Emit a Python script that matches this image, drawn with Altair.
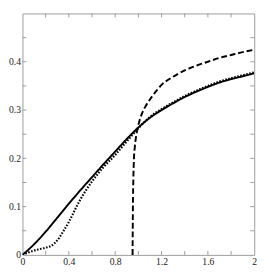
import altair as alt
import pandas as pd

# solid curve
solid_x = [0, 0.1, 0.2, 0.3, 0.4, 0.5, 0.6, 0.7, 0.8, 0.9, 1.0, 1.1, 1.2, 1.3, 1.4, 1.5, 1.6, 1.7, 1.8, 1.9, 2.0]
solid_y = [0, 0.022, 0.048, 0.077, 0.106, 0.134, 0.161, 0.188, 0.214, 0.240, 0.264, 0.284, 0.300, 0.314, 0.327, 0.338, 0.348, 0.357, 0.364, 0.370, 0.376]

# dotted curve
dot_x = [0, 0.05, 0.1, 0.15, 0.2, 0.25, 0.3, 0.35, 0.4, 0.45, 0.5, 0.6, 0.7, 0.8, 0.9, 1.0, 1.1, 1.2, 1.3, 1.4, 1.5, 1.6, 1.7, 1.8, 1.9, 2.0]
dot_y = [0, 0.005, 0.009, 0.012, 0.015, 0.019, 0.030, 0.048, 0.068, 0.092, 0.115, 0.152, 0.182, 0.207, 0.235, 0.262, 0.286, 0.302, 0.316, 0.329, 0.340, 0.350, 0.359, 0.366, 0.372, 0.378]

# dashed curve
dash_x = [0.95, 0.953, 0.957, 0.962, 0.97, 0.98, 0.993, 1.01, 1.03, 1.06, 1.1, 1.15, 1.2, 1.3, 1.4, 1.5, 1.6, 1.7, 1.8, 1.9, 2.0]
dash_y = [0, 0.10, 0.16, 0.20, 0.225, 0.245, 0.262, 0.278, 0.292, 0.307, 0.322, 0.338, 0.352, 0.369, 0.382, 0.392, 0.400, 0.408, 0.414, 0.420, 0.425]

x_labels = [0, 0.4, 0.8, 1.2, 1.6, 2]
y_labels = [0, 0.1, 0.2, 0.3, 0.4]
x_minor = [0.2, 0.4, 0.6, 0.8, 1.0, 1.2, 1.4, 1.6, 1.8]
y_minor = [0.05, 0.1, 0.15, 0.2, 0.25, 0.3, 0.35, 0.4, 0.45]

W, H = 240, 250
GRAY = "#9a9a9a"

xs = alt.Scale(domain=[0, 2], nice=False, zero=False)
ys = alt.Scale(domain=[0, 0.5], nice=False, zero=False)

xaxis = alt.Axis(values=x_labels, format="~g", ticks=False, domain=False, grid=False, title=None,
                 labelFlush=False, labelOverlap=False, labelPadding=2, labelFont="Liberation Serif",
                 labelFontSize=10, labelColor="#222")
yaxis = alt.Axis(values=y_labels, format="~g", ticks=False, domain=False, grid=False, title=None,
                 labelFlush=False, labelOverlap=False, labelPadding=2, labelFont="Liberation Serif",
                 labelFontSize=10, labelColor="#222")

def line_layer(xv, yv, dash, width):
    df = pd.DataFrame({"x": xv, "y": yv, "i": range(len(xv))})
    return alt.Chart(df).mark_line(color="black", strokeWidth=width, strokeDash=dash, clip=True,
                                   interpolate="monotone").encode(
        x=alt.X("x:Q", scale=xs, axis=xaxis),
        y=alt.Y("y:Q", scale=ys, axis=yaxis),
        order="i:Q",
    )

solid = line_layer(solid_x, solid_y, [1, 0], 2)
dotted = line_layer(dot_x, dot_y, [1.6, 1.6], 2.2)
dashed = line_layer(dash_x, dash_y, [6, 3], 2)

dfx = pd.DataFrame({"x": x_minor})
dfy = pd.DataFrame({"y": y_minor})
tb = alt.Chart(dfx).mark_rule(color=GRAY, strokeWidth=1).encode(
    x=alt.X("x:Q", scale=xs, axis=xaxis), y=alt.value(H), y2=alt.value(H - 4))
tt = alt.Chart(dfx).mark_rule(color=GRAY, strokeWidth=1).encode(
    x=alt.X("x:Q", scale=xs, axis=xaxis), y=alt.value(0), y2=alt.value(4))
tl = alt.Chart(dfy).mark_rule(color=GRAY, strokeWidth=1).encode(
    y=alt.Y("y:Q", scale=ys, axis=yaxis), x=alt.value(0), x2=alt.value(4))
tr = alt.Chart(dfy).mark_rule(color=GRAY, strokeWidth=1).encode(
    y=alt.Y("y:Q", scale=ys, axis=yaxis), x=alt.value(W - 4), x2=alt.value(W))

chart = alt.layer(tb, tt, tl, tr, solid, dotted, dashed).properties(
    width=W, height=H, padding={"left": 0, "top": 0, "right": 4, "bottom": 0}, background="white"
).configure_view(stroke=GRAY, strokeWidth=1)

chart.save("out.html", embed_options={"renderer": "svg", "actions": False})
